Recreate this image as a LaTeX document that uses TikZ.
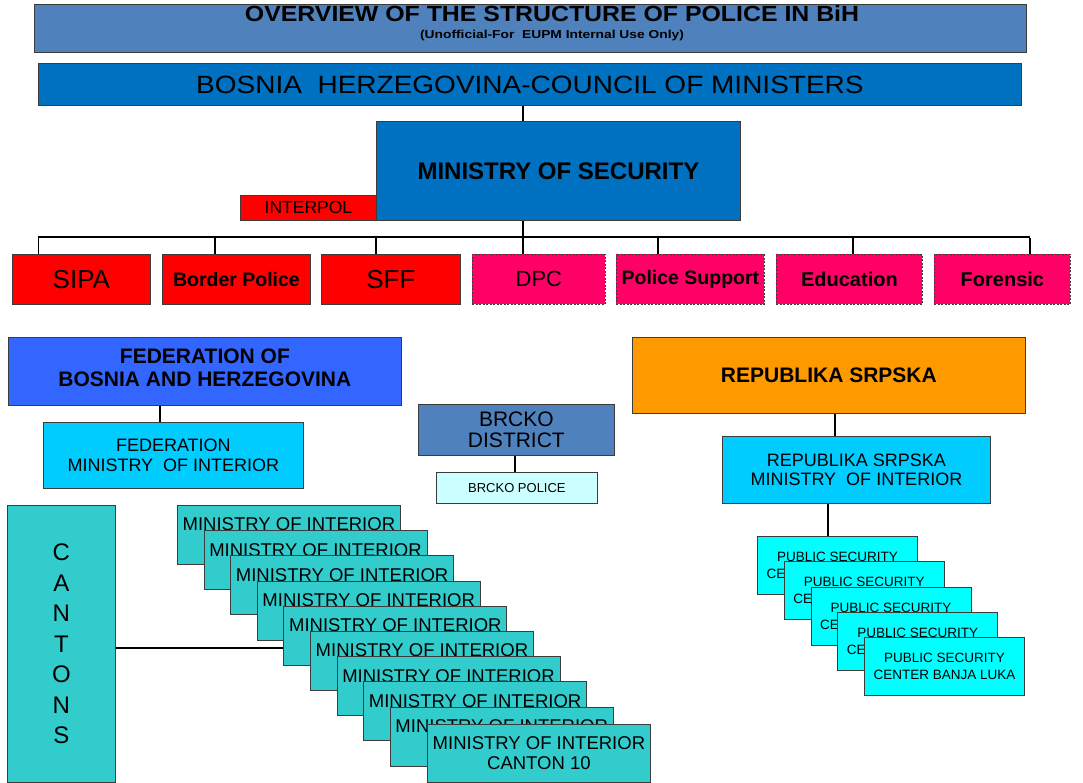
\documentclass[tikz,border=0pt]{standalone}
\usepackage{fontspec}
\setmainfont{Liberation Sans}
\usepackage{graphicx}
\definecolor{titleblue}{RGB}{79,129,189}
\definecolor{govblue}{RGB}{0,112,192}
\definecolor{pinkred}{RGB}{255,0,102}
\definecolor{fedblue}{RGB}{51,102,255}
\definecolor{skyc}{RGB}{0,204,255}
\definecolor{paleb}{RGB}{204,255,255}
\definecolor{rsorange}{RGB}{255,153,0}
\definecolor{tealc}{RGB}{51,204,204}
\definecolor{cyanc}{RGB}{0,255,255}
\definecolor{edgec}{RGB}{60,60,60}
\tikzset{
  box/.style={draw=edgec, line width=0.8pt, inner sep=0pt, align=center, anchor=north west, text=black},
  dbox/.style={box, fill=pinkred, dash pattern=on 2pt off 1.5pt, font=\fontsize{20}{22}\bfseries\selectfont},
  rbox/.style={box, fill=red},
  conn/.style={line width=2.8pt, black},
  thinconn/.style={line width=1pt, black}
}
\begin{document}
\begin{tikzpicture}[x=1pt,y=-1pt]
\fill[white] (0,0) rectangle (1083,783);
\useasboundingbox (0,0) rectangle (1083,783);

% header
\node[box, fill=titleblue, minimum width=992pt, minimum height=48pt] (title) at (34,4) {};
\node[inner sep=0pt, font=\fontsize{22}{24}\bfseries\selectfont] (titletext) at (552,14) {\scalebox{1.13}[1]{OVERVIEW OF THE STRUCTURE OF POLICE IN BiH}};
\node[inner sep=0pt, font=\fontsize{11.5}{13}\bfseries\selectfont] (subtitle) at (552,36) {\scalebox{1.2}[1]{(Unofficial-For\ \ EUPM Internal Use Only)}};

\node[box, fill=govblue, minimum width=983pt, minimum height=42pt, font=\fontsize{25}{27}\selectfont] (council) at (38,63) {\scalebox{1.12}[1]{BOSNIA\ \ HERZEGOVINA-COUNCIL OF MINISTERS}};

\node[box, fill=govblue, minimum width=364pt, minimum height=99pt, font=\fontsize{24}{26}\bfseries\selectfont] (mos) at (376,121) {MINISTRY OF SECURITY};
\node[rbox, minimum width=136pt, minimum height=25pt, font=\fontsize{17.5}{19}\selectfont] (interpol) at (240,195) {INTERPOL};

% agencies
\node[rbox, minimum width=138pt, minimum height=50pt, font=\fontsize{26}{28}\selectfont] (sipa) at (12,254) {SIPA};
\node[rbox, minimum width=148pt, minimum height=50pt, font=\fontsize{19.5}{22}\bfseries\selectfont] (border) at (162,254) {Border Police};
\node[rbox, minimum width=139pt, minimum height=50pt, font=\fontsize{26}{28}\selectfont] (sff) at (321,254) {SFF};
\node[dbox, minimum width=133pt, minimum height=50pt, font=\fontsize{22}{24}\selectfont] (dpc) at (472,254) {DPC};
\node[dbox, minimum width=148pt, minimum height=50pt, font=\fontsize{19.5}{22}\bfseries\selectfont] (ps) at (616,254) {Police Support};
\node[dbox, minimum width=146pt, minimum height=50pt] (edu) at (776,254) {Education};
\node[dbox, minimum width=136pt, minimum height=50pt] (foren) at (934,254) {Forensic};

% entities
\node[box, fill=fedblue, minimum width=393pt, minimum height=68pt, font=\fontsize{21}{23.5}\bfseries\selectfont] (fed) at (8,337) {FEDERATION OF\\BOSNIA AND HERZEGOVINA\\[-16pt]\mbox{}};
\node[box, fill=skyc, minimum width=260pt, minimum height=66pt, font=\fontsize{18}{20.5}\selectfont] (fedmoi) at (43,422) {FEDERATION\\MINISTRY\ \ OF INTERIOR};

\node[box, fill=titleblue, minimum width=196pt, minimum height=51pt, font=\fontsize{21}{20.5}\selectfont] (brcko) at (418,404) {BRCKO\\DISTRICT};
\node[box, fill=paleb, minimum width=161pt, minimum height=31pt, font=\fontsize{13}{15}\selectfont] (brckop) at (436,472) {BRCKO POLICE};

\node[box, fill=rsorange, minimum width=393pt, minimum height=76pt, font=\fontsize{21}{24}\bfseries\selectfont] (rs) at (632,337) {REPUBLIKA SRPSKA};
\node[box, fill=skyc, minimum width=268pt, minimum height=67pt, font=\fontsize{18}{19.5}\selectfont] (rsmoi) at (722,436) {REPUBLIKA SRPSKA\\MINISTRY\ \ OF INTERIOR};

% public security centers
\foreach \k [count=\n from 1] in {0,1,2,3}{
  \node[box, fill=cyanc, minimum width=160pt, minimum height=58pt, font=\fontsize{13.5}{17}\selectfont]
    (psc\n) at (757+26.75*\k,536+25.25*\k) {PUBLIC SECURITY\\CE\phantom{NTER BANJA LUKA}};
}
\node[box, fill=cyanc, minimum width=160pt, minimum height=58pt, font=\fontsize{13.5}{17}\selectfont]
  (psc5) at (864,637) {PUBLIC SECURITY\\CENTER BANJA LUKA};

% cantons
\node[box, fill=tealc, minimum width=108pt, minimum height=277pt, font=\fontsize{24}{30.5}\selectfont] (cantons) at (7,505) {C\\A\\N\\T\\O\\N\\S};
\foreach \k [count=\n from 1] in {0,...,8}{
  \node[box, fill=tealc, minimum width=223pt, minimum height=59pt, font=\fontsize{18.5}{21}\selectfont]
    (m\n) at (177+26.6*\k,505+25.2*\k) {MINISTRY OF INTERIOR\\\phantom{M}};
}
\node[box, fill=tealc, minimum width=223pt, minimum height=58pt, font=\fontsize{18.5}{20}\selectfont]
  (m10) at (427,724) {MINISTRY OF INTERIOR\\CANTON 10};

% connectors
\coordinate (busL) at (38,237);
\coordinate (busR) at (1030,237);
\draw[conn] (council.south -| 523,0) -- (mos.north -| 523,0);
\draw[conn] (mos.south -| 523,0) -- (dpc.north -| 523,0);
\draw[conn] (busL) -- (busR);
\draw[thinconn] (sipa.north -| busL) -- (busL);
\draw[conn] (border.north -| 215,0) -- (busL -| 215,0);
\draw[conn] (sff.north -| 376,0) -- (busL -| 376,0);
\draw[conn] (ps.north -| 658,0) -- (busL -| 658,0);
\draw[conn] (edu.north -| 853,0) -- (busL -| 853,0);
\draw[conn] (foren.north -| busR) -- ([yshift=-1.4pt]busR);
\draw[conn] (fed.south -| 160,0) -- (fedmoi.north -| 160,0);
\draw[conn] (brcko.south -| 515,0) -- (brckop.north -| 515,0);
\draw[conn] (rs.south -| 835,0) -- (rsmoi.north -| 835,0);
\draw[conn] (rsmoi.south -| 828,0) -- (psc1.north -| 828,0);
\draw[line width=2pt] (cantons.east |- 0,648) -- (m5.west |- 0,648);
\end{tikzpicture}
\end{document}
